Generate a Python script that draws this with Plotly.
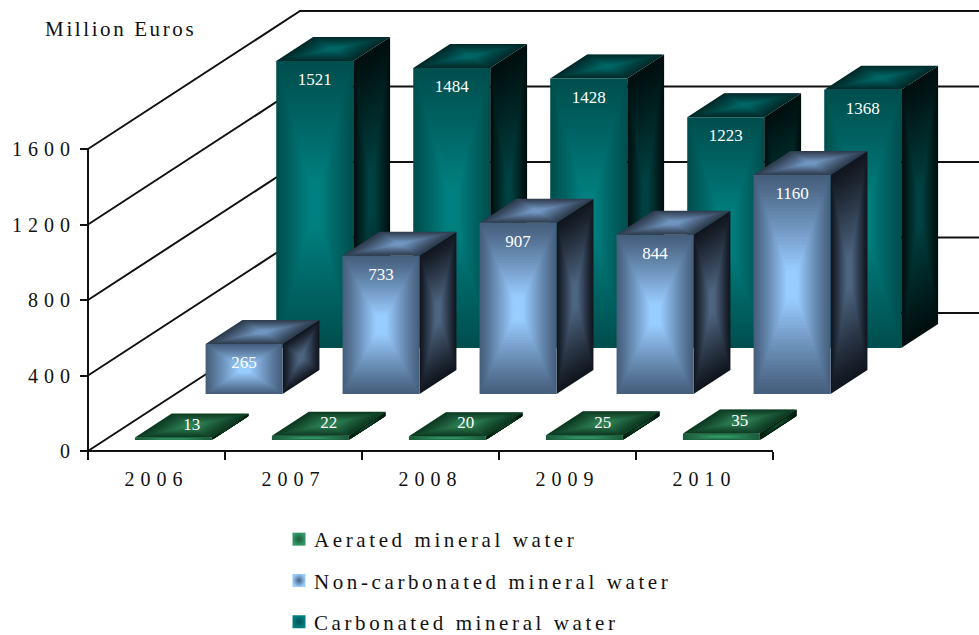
import plotly.graph_objects as go

# ---- data ----
years = ["2006", "2007", "2008", "2009", "2010"]
aerated = [13, 22, 20, 25, 35]
non_carbonated = [265, 733, 907, 844, 1160]
carbonated = [1521, 1484, 1428, 1223, 1368]
y_ticks = [0, 400, 800, 1200, 1600]
series_names = ["Aerated mineral water", "Non-carbonated mineral water", "Carbonated mineral water"]
y_title = "Million Euros"

# ---- oblique projection, in axis units (1 x unit = one category) ----
W, H = 979, 635
PX_X, PX_Y = 137.0, 302.0 / 1600          # pixels per axis unit
X0_PX, Y0_PX = 88.0, 451.0                # where x=0, y=0 sit on the page
DEPTH_X, DEPTH_Y = 212 / PX_X, 138 / PX_Y  # whole floor depth
BAR_W = 77 / PX_X
ROW_FILL = 24 / 46                        # bar depth as a share of its row
XR = [-X0_PX / PX_X, (W - X0_PX) / PX_X]
YR = [-(H - Y0_PX) / PX_Y, Y0_PX / PX_Y]
FONT = "Liberation Serif"
INK = "#111111"


def hexrgb(c):
    return [int(c[i:i + 2], 16) for i in (1, 3, 5)]


def mix(a, b, t):
    a, b = hexrgb(a), hexrgb(b)
    return "rgb(%d,%d,%d)" % tuple(round(p + (q - p) * t) for p, q in zip(a, b))


def front_xy(cat, row, depth_share):
    """Front-left bottom corner for a bar in a row (0 = nearest)."""
    d = (row + 0.5 + (depth_share - 0.5) * ROW_FILL) / 3
    return cat + (1 - BAR_W) / 2 + d * DEPTH_X, d * DEPTH_Y


def faces(cat, row, v):
    x, y = front_xy(cat, row, 0)
    dx = ROW_FILL / 3 * DEPTH_X
    dy = ROW_FILL / 3 * DEPTH_Y
    front = [(x, y), (x + BAR_W, y), (x + BAR_W, y + v), (x, y + v)]
    side = [(x + BAR_W, y), (x + BAR_W + dx, y + dy), (x + BAR_W + dx, y + dy + v), (x + BAR_W, y + v)]
    top = [(x, y + v), (x + BAR_W, y + v), (x + BAR_W + dx, y + dy + v), (x + dx, y + dy + v)]
    return {"front": front, "side": side, "top": top}


fig = go.Figure()

# walls
for v in y_ticks:
    fig.add_trace(go.Scatter(x=[0, DEPTH_X, XR[1]], y=[v, v + DEPTH_Y, v + DEPTH_Y], mode="lines",
                             line=dict(color=INK, width=2), showlegend=False, hoverinfo="skip", cliponaxis=False))
fig.add_trace(go.Scatter(x=[0, 0], y=[0, y_ticks[-1]], mode="lines", line=dict(color=INK, width=2),
                         showlegend=False, hoverinfo="skip"))
fig.add_trace(go.Scatter(x=[0, len(years)], y=[0, 0], mode="lines", line=dict(color=INK, width=2),
                         showlegend=False, hoverinfo="skip"))

palette = {
    2: dict(front=("#004f4f", "#008080"), side=("#000f0f", "#004242"), top=("#002a2a", "#006666")),
    1: dict(front=("#465f7d", "#99CCFF"), side=("#11161f", "#4e6580"), top=("#2f3c4e", "#7196c0")),
    0: dict(front=("#1c5c3c", "#339966"), side=("#001a0d", "#14492c"), top=("#0d3a22", "#2f8055")),
}
values = {0: aerated, 1: non_carbonated, 2: carbonated}
LEVELS = 30

for row in (2, 1, 0):
    for face in ("side", "top", "front"):
        polys = [faces(c, row, v)[face] for c, v in enumerate(values[row])]
        for k in range(LEVELS):
            s = 1 - k / LEVELS
            t = min(1.0, (1 - s) / 0.85) ** 1.1
            xs, ys = [], []
            for p in polys:
                cx = sum(q[0] for q in p) / 4
                cy = sum(q[1] for q in p) / 4
                pts = [(cx + (q[0] - cx) * s, cy + (q[1] - cy) * s) for q in p]
                pts.append(pts[0])
                xs += [q[0] for q in pts] + [None]
                ys += [q[1] for q in pts] + [None]
            edge, centre = palette[row][face]
            col = mix(edge, centre, t)
            fig.add_trace(go.Scatter(x=xs, y=ys, mode="lines", fill="toself", fillcolor=col,
                                     line=dict(width=0, color=col), showlegend=False, hoverinfo="skip",
                                     cliponaxis=False))

# data labels
for row in (2, 1, 0):
    lx, ly, tx = [], [], []
    for c, v in enumerate(values[row]):
        x, y = front_xy(c, row, 0)
        if row == 0:
            d = ROW_FILL / 3
            lx.append(x + BAR_W / 2 + d * DEPTH_X / 2)
            ly.append(y + v + d * DEPTH_Y / 2)
        else:
            lx.append(x + BAR_W / 2)
            ly.append(y + v - 105)
        tx.append(str(v))
    fig.add_trace(go.Scatter(x=lx, y=ly, text=tx, mode="text", textposition="middle center",
                             textfont=dict(family=FONT, size=17, color="white"), showlegend=False,
                             hoverinfo="skip", cliponaxis=False))

# legend
legend_cols = {0: ("#1c5c3c", "#339966"), 1: ("#465f7d", "#99CCFF"), 2: ("#005050", "#008080")}
for i, name in enumerate(series_names):
    fig.add_trace(go.Scatter(x=[None], y=[None], mode="markers", name=name, legendgroup=name,
                             marker=dict(symbol="square", size=13, color=legend_cols[i][1],
                                         gradient=dict(type="radial", color=legend_cols[i][0]))))

fig.update_layout(
    width=W, height=H, margin=dict(l=0, r=0, t=0, b=0, autoexpand=False), autosize=False,
    paper_bgcolor="white", plot_bgcolor="white",
    font=dict(family=FONT, color=INK, size=19),
    xaxis=dict(domain=[0, 1], range=XR, anchor="free", position=(H - Y0_PX) / H, showgrid=False, zeroline=False,
               showline=False, tickmode="array", tickvals=[i + 0.5 for i in range(len(years))], ticktext=years,
               ticks="", ticklabelstandoff=14,
               tickfont=dict(family=FONT, size=20, color=INK),
               minor=dict(tickmode="array", tickvals=list(range(len(years) + 1)), ticks="outside", ticklen=8,
                          tickwidth=2, tickcolor=INK, showgrid=False)),
    yaxis=dict(domain=[0, 1], range=YR, anchor="free", position=X0_PX / W, showgrid=False, zeroline=False,
               showline=False, tickmode="array", tickvals=y_ticks, ticktext=[str(v) for v in y_ticks],
               ticks="outside", ticklen=8, tickwidth=2, tickcolor=INK,
               tickfont=dict(family=FONT, size=20, color=INK)),
    legend=dict(x=279 / W, y=1 - 519 / H, xanchor="left", yanchor="top", orientation="v",
                tracegroupgap=11, bgcolor="rgba(0,0,0,0)",
                font=dict(family=FONT, size=21, color=INK), itemclick=False, itemdoubleclick=False),
    annotations=[dict(text=y_title, xref="paper", yref="paper", x=59.5 / W, y=1 - 29 / H, xanchor="left",
                      yanchor="middle", showarrow=False, font=dict(family=FONT, size=21, color=INK))],
)

spacing_css = (
    "body{margin:0}"
    ".xtick text,.ytick text{letter-spacing:6px}"
    ".legendtext{letter-spacing:3.6px;transform:translateX(-5px)}"
    ".legend .scrollbox{clip-path:none!important}"
    ".annotation-text{letter-spacing:2.6px}"
)
fig.write_html("out.html", config={"displayModeBar": False}, post_script=
    "var s=document.createElement('style');s.textContent='%s';document.head.appendChild(s);" % spacing_css)
